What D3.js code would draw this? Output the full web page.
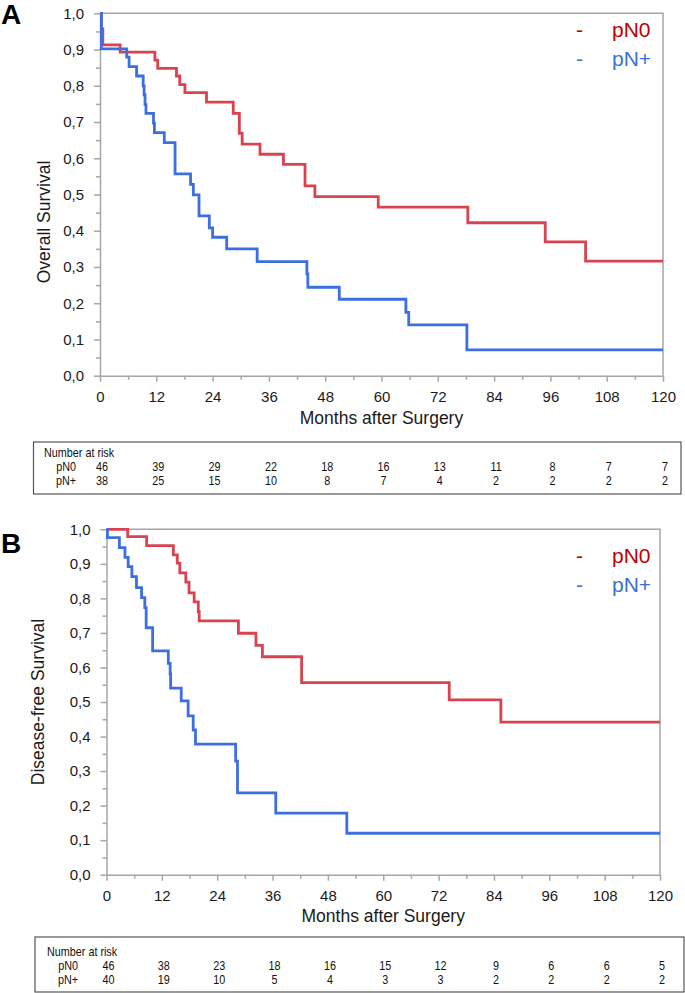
<!DOCTYPE html>
<html lang="en">
<head>
  <meta charset="UTF-8">
  <title>Overall and disease-free survival by pN status</title>
  <script src="https://d3js.org/d3.v7.min.js"></script>
  <style>
    body {
      margin: 0;
      padding: 0;
      background-color: #fff;
    }
    svg {
      display: block;
      font-family: "Liberation Sans", Arial, sans-serif;
    }
  </style>
</head>
<body>
  <svg id="canvas" width="685" height="993"></svg>
  <script>
// x axis ticks (months) and risk table time points
const monthTicks = [0, 12, 24, 36, 48, 60, 72, 84, 96, 108, 120];
const groups = ["pN0", "pN+"];

// Kaplan-Meier steps: [month, survival]
const osN0 = [[0, 1.0], [0.3, 0.957], [0.6, 0.913], [4.3, 0.893], [11.7, 0.871], [12.3, 0.848],
  [16.3, 0.827], [17.0, 0.803], [18.1, 0.781], [22.7, 0.755], [28.4, 0.724], [29.7, 0.669],
  [30.3, 0.639], [34.1, 0.611], [39.1, 0.583], [43.7, 0.524], [45.8, 0.494], [59.3, 0.465],
  [78.4, 0.422], [94.9, 0.369], [103.5, 0.316], [120, 0.316]];
const osNp = [[0, 1.0], [0.3, 0.902], [5.7, 0.879], [6.2, 0.853], [7.8, 0.827], [9.2, 0.800],
  [9.4, 0.775], [9.6, 0.748], [9.8, 0.724], [11.4, 0.697], [11.6, 0.671], [13.7, 0.643],
  [16.0, 0.557], [19.3, 0.528], [19.9, 0.499], [21.1, 0.441], [23.3, 0.408], [24.0, 0.382],
  [27.0, 0.350], [33.5, 0.315], [44.1, 0.281], [44.3, 0.244], [51.0, 0.211], [65.2, 0.175],
  [65.8, 0.140], [78.2, 0.071], [120, 0.071]];
const dfsN0 = [[0, 1.0], [4.6, 0.979], [8.7, 0.953], [14.5, 0.926], [15.35, 0.902], [15.9, 0.874],
  [17.2, 0.847], [17.9, 0.816], [19.0, 0.790], [19.9, 0.762], [20.1, 0.735], [28.6, 0.699],
  [32.4, 0.664], [33.8, 0.631], [42.3, 0.556], [74.3, 0.506], [85.5, 0.442], [120, 0.442]];
const dfsNp = [[0, 1.0], [0.2, 0.976], [2.8, 0.947], [4.0, 0.919], [4.7, 0.892], [5.5, 0.863],
  [6.5, 0.831], [7.6, 0.802], [8.3, 0.773], [8.6, 0.715], [10.0, 0.648], [13.4, 0.612],
  [13.8, 0.581], [13.9, 0.540], [16.2, 0.503], [17.7, 0.460], [18.8, 0.419], [19.3, 0.378],
  [28.0, 0.329], [28.4, 0.237], [36.7, 0.178], [52.1, 0.120], [120, 0.120]];

// numbers at risk
const osRiskN0 = [46, 39, 29, 22, 18, 16, 13, 11, 8, 7, 7];
const osRiskNp = [38, 25, 15, 10, 8, 7, 4, 2, 2, 2, 2];
const dfsRiskN0 = [46, 38, 23, 18, 16, 15, 12, 9, 6, 6, 5];
const dfsRiskNp = [40, 19, 10, 5, 4, 3, 3, 2, 2, 2, 2];

const lineColors = ["#d9434f", "#3c6fe0"];
const legendColors = ["#c00000", "#3a6fe0"];
const axisGray = "#a6a6a6";

const svg = d3.select("#canvas");
const fmt = d3.formatLocale({decimal: ",", thousands: ".", grouping: [3], currency: ["", ""]}).format(".1f");

function drawPanel(p) {
  const x = d3.scaleLinear().domain([0, 120]).range([p.left, p.right]);
  const y = d3.scaleLinear().domain([0, 1]).range([p.bottom, p.top]);
  const g = svg.append("g");

  // panel letter
  g.append("text")
    .attr("x", 1).attr("y", p.letterY)
    .attr("font-size", 28).attr("font-weight", "bold")
    .text(p.letter);

  // frame top + right
  g.append("path")
    .attr("d", `M${p.left},${p.top}H${p.right}V${p.bottom}`)
    .attr("fill", "none").attr("stroke", axisGray).attr("stroke-width", 1.5);

  // minor ticks
  g.append("g").attr("transform", `translate(${p.left},0)`)
    .call(d3.axisLeft(y).tickValues(d3.range(0.05, 1, 0.1)).tickSize(4).tickFormat(""))
    .call(s => s.select(".domain").remove())
    .call(s => s.selectAll("line").attr("stroke", axisGray).attr("stroke-width", 1.5));
  g.append("g").attr("transform", `translate(0,${p.bottom})`)
    .call(d3.axisBottom(x).tickValues(d3.range(6, 120, 12)).tickSize(4).tickFormat(""))
    .call(s => s.select(".domain").remove())
    .call(s => s.selectAll("line").attr("stroke", axisGray).attr("stroke-width", 1.5));

  // main axes
  const yAxis = g.append("g").attr("transform", `translate(${p.left},0)`)
    .call(d3.axisLeft(y).tickValues(d3.range(0, 1.01, 0.1)).tickSize(6).tickSizeOuter(0)
      .tickPadding(10).tickFormat(fmt));
  const xAxis = g.append("g").attr("transform", `translate(0,${p.bottom})`)
    .call(d3.axisBottom(x).tickValues(monthTicks).tickSize(6).tickSizeOuter(0).tickPadding(10));
  [yAxis, xAxis].forEach(a => {
    a.select(".domain").attr("stroke", axisGray).attr("stroke-width", 1.5);
    a.selectAll("line").attr("stroke", axisGray).attr("stroke-width", 1.5);
    a.selectAll("text").attr("font-size", 15).attr("fill", "#1a1a1a")
      .attr("font-family", "'Liberation Sans', Arial, sans-serif");
  });

  // axis titles
  g.append("text")
    .attr("transform", `translate(${p.yTitleX},${p.yTitleY}) rotate(-90)`)
    .attr("text-anchor", "middle").attr("font-size", 17.5).attr("fill", "#1a1a1a")
    .text(p.yTitle);
  g.append("text")
    .attr("x", (p.left + p.right) / 2).attr("y", p.xTitleY)
    .attr("text-anchor", "middle").attr("font-size", 17.5).attr("fill", "#1a1a1a")
    .text("Months after Surgery");

  // curves
  const line = d3.line().x(d => x(d[0])).y(d => y(d[1])).curve(d3.curveStepAfter);
  p.curves.forEach((c, i) => {
    g.append("path").datum(c)
      .attr("d", line)
      .attr("fill", "none")
      .attr("stroke", lineColors[i])
      .attr("stroke-width", 2.8);
  });

  // legend
  groups.forEach((name, i) => {
    const ly = p.legendY + i * 29;
    g.append("text").attr("x", 576).attr("y", ly)
      .attr("font-size", 21).attr("fill", legendColors[i]).text("-");
    g.append("text").attr("x", 612).attr("y", ly)
      .attr("font-size", 21).attr("fill", legendColors[i]).text(name);
  });

  // number at risk table
  const t = p.table;
  g.append("rect")
    .attr("x", t.x0).attr("y", t.y0)
    .attr("width", t.x1 - t.x0).attr("height", t.y1 - t.y0)
    .attr("fill", "none").attr("stroke", "#555").attr("stroke-width", 1.2);
  const narrow = (tx, ty, str, anchor) => g.append("text")
    .attr("transform", `translate(${tx},${ty}) scale(0.9,1)`)
    .attr("text-anchor", anchor).attr("font-size", 12).attr("fill", "#111")
    .text(str);
  narrow(t.labelX, t.rows[0], "Number at risk", "start");
  p.risk.forEach((vals, r) => {
    narrow(t.groupX, t.rows[r + 1], groups[r], "end");
    vals.forEach((v, k) => narrow(x(monthTicks[k]) + 2, t.rows[r + 1], v, "middle"));
  });
}

drawPanel({
  letter: "A", letterY: 24,
  left: 100, right: 663, top: 13.3, bottom: 375.7,
  yTitle: "Overall Survival", yTitleX: 50, yTitleY: 222,
  xTitleY: 424,
  curves: [osN0, osNp],
  legendY: 37,
  risk: [osRiskN0, osRiskNp],
  table: {x0: 33.5, x1: 681, y0: 442, y1: 494, labelX: 44, groupX: 76, rows: [457, 471, 485]}
});

drawPanel({
  letter: "B", letterY: 553,
  left: 106.5, right: 660, top: 529.3, bottom: 874.7,
  yTitle: "Disease-free Survival", yTitleX: 44, yTitleY: 702,
  xTitleY: 922,
  curves: [dfsN0, dfsNp],
  legendY: 563,
  risk: [dfsRiskN0, dfsRiskNp],
  table: {x0: 35, x1: 684, y0: 937, y1: 992, labelX: 47, groupX: 78, rows: [956, 970, 984]}
});
  </script>
</body>
</html>
